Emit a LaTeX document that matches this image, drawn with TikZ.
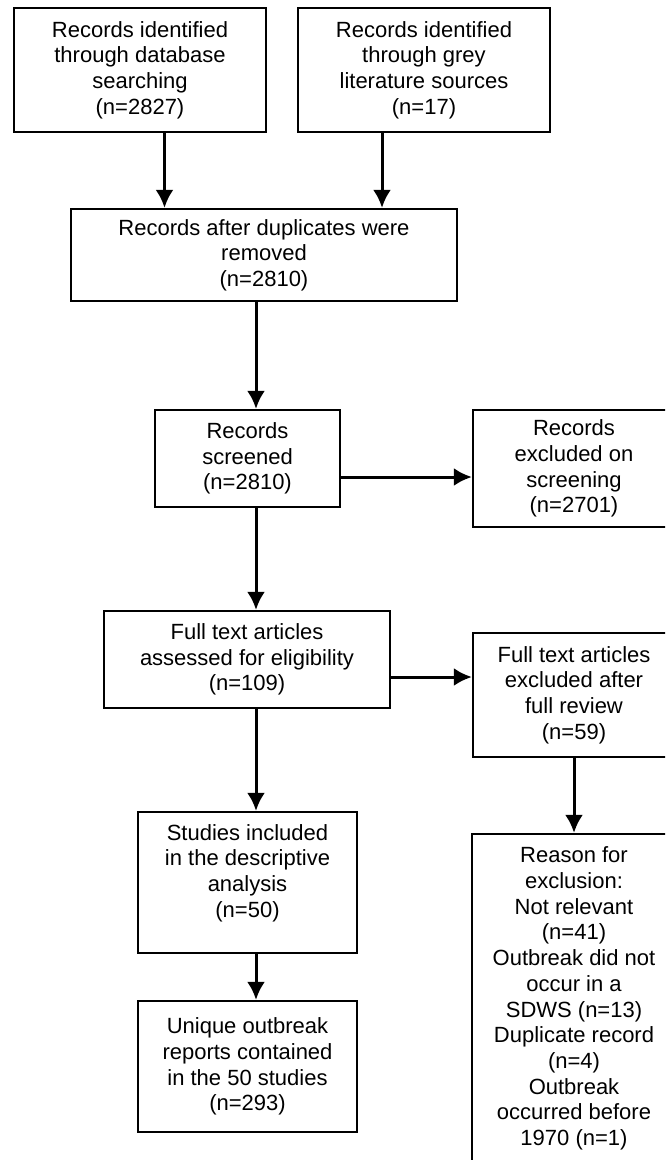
\documentclass[tikz,border=0pt]{standalone}
\usepackage{fontspec}
\setmainfont{Liberation Sans}
\usetikzlibrary{arrows.meta}

\tikzset{
	box/.style = {draw, line width = 2.3pt, align = center, inner sep = 0pt},
}

\begin{document}
\begin{tikzpicture}[x = 1pt, y = -1pt, font = \fontsize{22}{25.7}\selectfont]
			\useasboundingbox (0,0) rectangle (665,1160);
			\fill [white] (0,0) rectangle (665,1160);
			\clip (0,0) rectangle (665,1160);

			% identification
			\node (dbase) [box, minimum width = 252pt, minimum height = 124pt] at (140,70)
				{Records identified\\through database\\searching\\(n=2827)};
			\node (grey) [box, minimum width = 252pt, minimum height = 124pt] at (424,70)
				{Records identified\\through grey\\literature sources\\(n=17)};
			\node (dedup) [box, minimum width = 386pt, minimum height = 92pt] at (264,255)
				{Records after duplicates were\\removed\\(n=2810)};

			% screening
			\node (screen) [box, minimum width = 185pt, minimum height = 97pt] at (247.5,458.5)
				{Records\\screened\\(n=2810)};
			\node (excl) [box, minimum width = 202pt, minimum height = 117pt] at (574,468.5)
				{Records\\excluded on\\screening\\(n=2701)};

			% eligibility
			\node (full) [box, minimum width = 286pt, minimum height = 97pt] at (247,659.5)
				{Full text articles\\assessed for eligibility\\(n=109)};
			\node (exclfull) [box, minimum width = 202pt, minimum height = 124pt] at (574,695)
				{Full text articles\\excluded after\\full review\\(n=59)};

			% included
			\node (incl) [box, minimum width = 219pt, minimum height = 141pt] at (247.5,882.5)
				{Studies included\\in the descriptive\\analysis\\(n=50)\\[-2pt]\mbox{}};
			\node (uniq) [box, minimum width = 219pt, minimum height = 131pt] at (247.5,1066.5)
				{Unique outbreak\\reports contained\\in the 50 studies\\(n=293)};

			\node (reason) [box, minimum width = 204pt, minimum height = 366pt] at (574,1017) {};
			\node (reasontxt) [align = center] at (574,998.5)
				{Reason for\\exclusion:\\Not relevant\\(n=41)\\Outbreak did not\\occur in a\\SDWS (n=13)\\Duplicate record\\(n=4)\\Outbreak\\occurred before\\1970 (n=1)};

			\coordinate (colA) at (164.5,0);
			\coordinate (colB) at (382,0);
			\coordinate (colC) at (256,0);
			\coordinate (rowA) at (0,477);
			\coordinate (rowB) at (0,677);

			\begin{scope}[-{Latex[length = 18pt, width = 18pt]}, line width = 3pt]
				\draw (dbase.south -| colA) -- (dedup.north -| colA);
				\draw (grey.south -| colB) -- (dedup.north -| colB);
				\draw (dedup.south -| colC) -- (screen.north -| colC);
				\draw (screen.south -| colC) -- (full.north -| colC);
				\draw (full.south -| colC) -- (incl.north -| colC);
				\draw (incl.south -| colC) -- (uniq.north -| colC);
				\draw (screen.east |- rowA) -- (excl.west |- rowA);
				\draw (full.east |- rowB) -- (exclfull.west |- rowB);
				\draw (exclfull.south) -- (reason.north);
			\end{scope}
		\end{tikzpicture}
\end{document}
